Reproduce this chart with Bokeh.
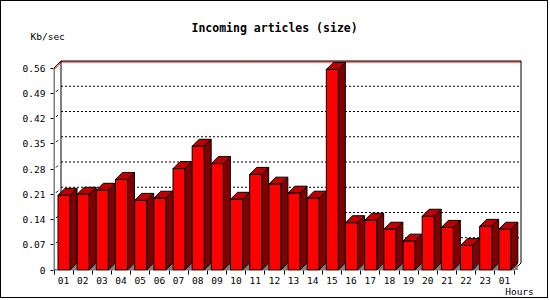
from bokeh.plotting import figure
from bokeh.models import Range1d, FixedTicker, CustomJSTickFormatter, LinearAxis, Title
from bokeh.embed import file_html
from bokeh.resources import INLINE

# ---------------- data ----------------
hours = ["01", "02", "03", "04", "05", "06", "07", "08", "09", "10", "11", "12",
         "13", "14", "15", "16", "17", "18", "19", "20", "21", "22", "23", "01"]
kbps = [0.207, 0.210, 0.221, 0.251, 0.193, 0.199, 0.281, 0.343, 0.295, 0.196, 0.265, 0.238,
        0.213, 0.199, 0.556, 0.131, 0.138, 0.113, 0.080, 0.149, 0.118, 0.068, 0.121, 0.113]
y_ticks = [0, 0.07, 0.14, 0.21, 0.28, 0.35, 0.42, 0.49, 0.56]
title_text = "Incoming articles (size)"
y_unit = "Kb/sec"
x_unit = "Hours"

# ---------------- geometry ----------------
N = len(hours)
YMAX = y_ticks[-1]
CAT_PX = 460 / N          # pixels per category
VAL_PX = YMAX / 202       # value per pixel
DX = 7 / CAT_PX           # 3d depth (x)
DY = 7 * VAL_PX           # 3d depth (y)
BAR_OFF = 4 / CAT_PX
BAR_W = 12 / CAT_PX

W, H = 548, 298
FL, FR, FT, FB = 52, 522, 57, 269
X0, Y0 = 52.5, 268.5


def cx(sx):
    return (sx - X0) / CAT_PX


def cy(sy):
    return (Y0 - sy) * VAL_PX


p = figure(width=W, height=H, output_backend="svg", toolbar_location=None,
           x_range=Range1d(cx(FL), cx(FR)), y_range=Range1d(cy(FB), cy(FT)),
           min_border_left=FL, min_border_right=W - FR,
           min_border_top=FT, min_border_bottom=H - FB)
p.styles = {"border": "1px solid black"}
p.outline_line_color = None
p.xgrid.visible = False
p.ygrid.visible = False
p.background_fill_color = "white"
p.border_fill_color = "white"

FONT = "DejaVu Sans Mono"

# titles
p.title.text = title_text
p.title.align = "left"
p.title.offset = 138
p.title.standoff = -45
p.title.text_font = FONT
p.title.text_font_style = "bold"
p.title.text_font_size = "11.5px"
p.title.text_color = "black"
p.add_layout(Title(text=y_unit, align="left", offset=-23, standoff=33,
                   text_font=FONT, text_font_style="normal", text_font_size="9.5px",
                   text_color="black"), "above")

# y axis
p.yaxis.ticker = FixedTicker(ticks=y_ticks, minor_ticks=[])
p.yaxis.formatter = CustomJSTickFormatter(code="return tick == 0 ? '0' : tick.toFixed(2)")
p.yaxis.axis_line_color = None
p.yaxis.major_tick_out = 3
p.yaxis.major_tick_in = 0
p.yaxis.minor_tick_line_color = None
p.yaxis.major_label_standoff = 5
p.yaxis.major_label_text_font = FONT
p.yaxis.major_label_text_font_size = "9.5px"
p.yaxis.major_label_text_color = "black"

# x axis
p.xaxis.ticker = FixedTicker(ticks=[i + 0.5 for i in range(N)], minor_ticks=list(range(N + 1)))
p.xaxis.formatter = CustomJSTickFormatter(args=dict(labels=hours),
                                          code="return labels[Math.floor(tick)]")
p.xaxis.axis_line_color = None
p.xaxis.major_tick_line_color = None
p.xaxis.major_tick_out = 0
p.xaxis.major_tick_in = 0
p.xaxis.minor_tick_out = 4
p.xaxis.minor_tick_in = 0
p.xaxis.minor_tick_line_color = "black"
p.xaxis.major_label_standoff = 2
p.xaxis.major_label_text_font = FONT
p.xaxis.major_label_text_font_size = "9.5px"
p.xaxis.major_label_text_color = "black"

# unit label for x, as a second axis below
unit_x = cx(518)
xunit_axis = LinearAxis(ticker=FixedTicker(ticks=[unit_x], minor_ticks=[]),
                        formatter=CustomJSTickFormatter(args=dict(t=x_unit), code="return t"),
                        axis_line_color=None, major_tick_line_color=None,
                        minor_tick_line_color=None, major_tick_out=0, major_tick_in=0,
                        major_label_standoff=-1, major_label_text_font=FONT,
                        major_label_text_font_size="9.5px", major_label_text_color="black")
p.add_layout(xunit_axis, "below")

# back wall dotted grid
grid_vals = y_ticks[1:-1]
p.segment(x0=[DX] * len(grid_vals), x1=[N + DX] * len(grid_vals),
          y0=[v + DY for v in grid_vals], y1=[v + DY for v in grid_vals],
          line_color="black", line_width=1, line_dash="2 2")

# small diagonal marks at tick levels
p.segment(x0=[2 / CAT_PX] * len(grid_vals), x1=[4 / CAT_PX] * len(grid_vals),
          y0=[v + 1.5 * VAL_PX for v in grid_vals], y1=[v + 3.5 * VAL_PX for v in grid_vals],
          line_color="black", line_width=1)

# red top line
p.segment(x0=[DX, 0.5 / CAT_PX], x1=[N + DX, DX + 0.5 / CAT_PX],
          y0=[YMAX + DY - VAL_PX, YMAX - VAL_PX], y1=[YMAX + DY - VAL_PX, YMAX + DY - VAL_PX],
          line_color="red", line_width=1)

# frame lines
fx0 = [DX, N + DX, DX, 0, N, 0, 0]
fx1 = [DX, N + DX, N + DX, DX, N + DX, 0, N]
fy0 = [DY, DY, YMAX + DY, YMAX, 0, 0, 0]
fy1 = [YMAX + DY, YMAX + DY, YMAX + DY, YMAX + DY, DY, YMAX, 0]
p.segment(x0=fx0, x1=fx1, y0=fy0, y1=fy1, line_color="black", line_width=1)

# bars
tri_x, tri_y, side_x, side_y, top_x, top_y, fl, fr, ft = [], [], [], [], [], [], [], [], []
for i, v in enumerate(kbps):
    xl = i + BAR_OFF
    xr = xl + BAR_W
    tri_x.append([xr, xr + DX, xr + DX])
    tri_y.append([0, 0, DY])
    side_x.append([xr, xr + DX, xr + DX, xr])
    side_y.append([0, DY, v + DY, v])
    top_x.append([xl, xr, xr + DX, xl + DX])
    top_y.append([v, v, v + DY, v + DY])
    fl.append(xl)
    fr.append(xr)
    ft.append(v)

p.patches(tri_x, tri_y, fill_color="#808080", line_color=None)
p.patches(side_x, side_y, fill_color="#800000", line_color="black", line_width=1)
p.patches(top_x, top_y, fill_color="#C00000", line_color="black", line_width=1)
p.quad(left=fl, right=fr, bottom=[0] * N, top=ft,
       fill_color="#FF0000", line_color="black", line_width=1)

open("out.html", "w").write(file_html(p, INLINE))
